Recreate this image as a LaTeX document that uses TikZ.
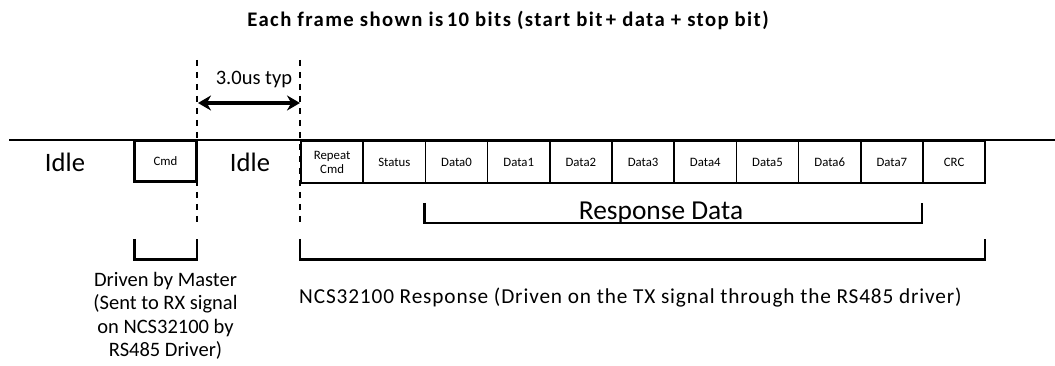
\documentclass[tikz,border=0pt]{standalone}
\usepackage{fontspec}
\setmainfont{Carlito}
\usetikzlibrary{arrows.meta}
\tikzset{
  frame/.style={draw, line width=1.6pt, minimum width=62.2pt, minimum height=42pt, inner sep=0pt,
    font=\fontsize{12.8}{14}\selectfont, align=center},
  cmdbox/.style={draw, line width=3.6pt, minimum width=62pt, minimum height=41pt, inner sep=0pt,
    font=\fontsize{12.8}{14}\selectfont},
  bigtxt/.style={font=\fontsize{26.6}{30}\selectfont, inner sep=0pt},
  midtxt/.style={font=\fontsize{20.5}{23.5}\selectfont, inner sep=0pt, align=center},
  guide/.style={line width=2.2pt, dash pattern=on 6pt off 6pt},
  bracket/.style={line width=2.3pt},
  sigline/.style={line width=2pt}
}
\begin{document}
\begin{tikzpicture}[x=1pt,y=-1pt]
\useasboundingbox (0,0) rectangle (1055,366);
% title
\node[font=\bfseries\fontsize{20.7}{24}\selectfont\addfontfeature{LetterSpace=6.7}, inner sep=0pt] (title) at (508,20) {Each frame shown is\,10 bits (start bit\,+ data + stop bit)};
% signal line
\coordinate (lineL) at (9,140.5);
\coordinate (lineR) at (1055,140.5);
\draw[sigline] (lineL) -- (lineR);
% idle labels
\node[bigtxt] (idle1) at (65,162) {Idle};
\node[bigtxt] (idle2) at (250,162) {Idle};
% cmd box
\node[cmdbox] (cmd) at (165.5,161) {Cmd};
% frames
\foreach \i/\t in {1/{Repeat\\Cmd},2/Status,3/Data0,4/Data1,5/Data2,6/Data3,7/Data4,8/Data5,9/Data6,10/Data7,11/CRC}{
  \node[frame, fill=white] (f\i) at ({301+62.2*(\i-0.5)},162) {\t};
}
% guides
\coordinate (g1t) at (197,60);
\coordinate (g1b) at (197,222);
\coordinate (g2t) at (300,60);
\coordinate (g2b) at (300,222);
\draw[guide] (g1t) -- (g1b);
\draw[guide] (g2t) -- (g2b);
% timing arrow
\coordinate (aL) at (198,103);
\coordinate (aR) at (300,103);
\draw[line width=3.6pt, {Stealth[length=13pt,width=15pt]}-{Stealth[length=13pt,width=15pt]}] (aL) -- (aR);
\node[midtxt] (typ) at (254,80) {3.0us typ};
% response data bracket
\coordinate (rd1) at (424.5,203);
\coordinate (rd2) at (424.5,223);
\coordinate (rd3) at (922,223);
\coordinate (rd4) at (922,203);
\draw[bracket] (rd1) -- (rd2) -- (rd3) -- (rd4);
\node[bigtxt, font=\fontsize{27.4}{30}\selectfont] (rdtxt) at (661,213) {Response Data};
% master bracket
\coordinate (m1) at (134.5,239);
\coordinate (m2) at (134.5,259.5);
\coordinate (m3) at (197,259.5);
\coordinate (m4) at (197,239);
\draw[bracket] (m1) -- (m2) -- (m3) -- (m4);
\node[midtxt] (mtxt) at (165.5,316) {Driven by Master\\(Sent to RX signal\\on NCS32100 by\\RS485 Driver)};
% response bracket
\coordinate (n1) at (300,239);
\coordinate (n2) at (300,259.5);
\coordinate (n3) at (985,259.5);
\coordinate (n4) at (985,239);
\draw[bracket] (n1) -- (n2) -- (n3) -- (n4);
\node[midtxt, font=\fontsize{21.3}{23.5}\selectfont\addfontfeature{LetterSpace=4}, anchor=west] (ntxt) at (299,298) {NCS32100 Response (Driven on the TX signal through the RS485 driver)};
\end{tikzpicture}
\end{document}
